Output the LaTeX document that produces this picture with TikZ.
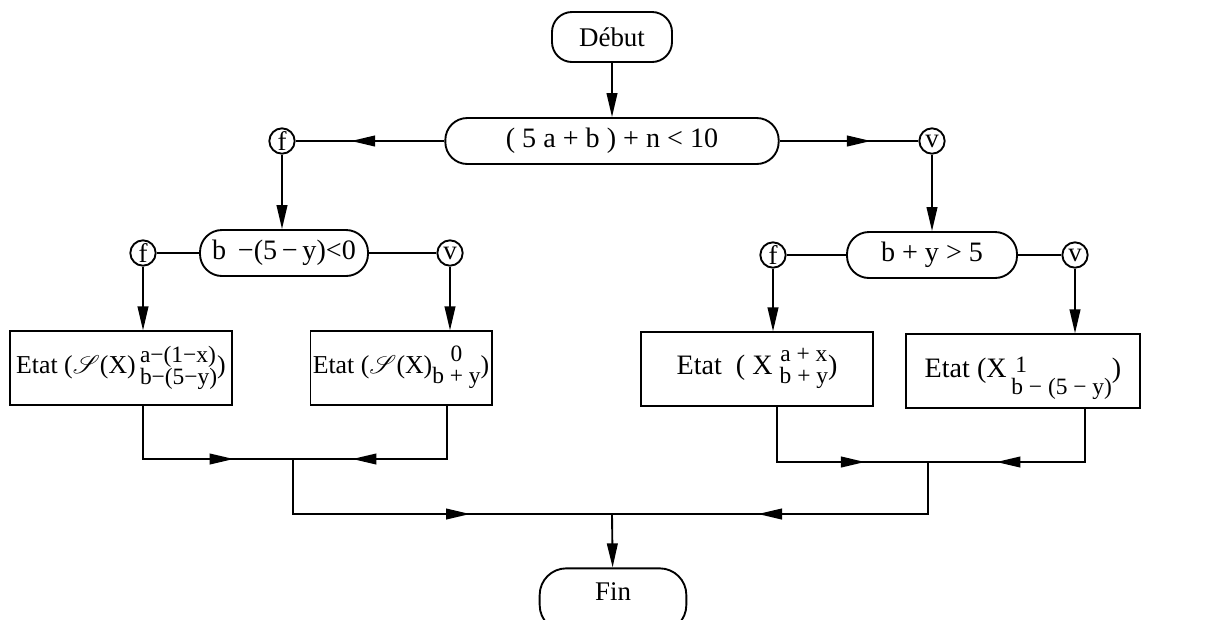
\documentclass[tikz,border=0pt]{standalone}
\usepackage{fontspec}
\usepackage{mathrsfs}
\setmainfont{Liberation Serif}
\usetikzlibrary{arrows.meta,decorations.markings}
\newcommand{\stk}[3]{{\fontsize{10}{11}\selectfont\renewcommand{\arraystretch}{0.75}\begin{tabular}{@{}#1@{}}#2\\#3\end{tabular}}}
\begin{document}
\begin{tikzpicture}[x=0.015cm,y=-0.015cm,line width=0.8pt,
    >={Triangle[length=3.6mm,width=1.6mm]},
    term/.style={draw, rounded corners=0.3cm, minimum height=0.75cm, font=\fontsize{11.5}{13}\selectfont},
    test/.style={draw, rounded corners=0.33cm, minimum height=0.69cm, font=\fontsize{12}{14}\selectfont},
    rep/.style={draw, circle, inner sep=0pt, minimum size=0.38cm, font=\fontsize{11.5}{12}\selectfont},
    etat/.style={draw, minimum height=1.1cm, inner sep=1pt, font=\fontsize{11}{13}\selectfont},
    flow/.style={postaction={decorate},
      decoration={markings, mark=at position #1 with {\arrow{>}}}}]
    \useasboundingbox (0,0) rectangle (1219,619);
    \node[term, minimum width=1.8cm] (debut) at (612,37) {Début};
    \node[test, minimum width=5cm] (test1) at (612,141) {( 5 a + b ) + n < 10\hspace{0.5cm}};
    \node[rep] (f1) at (282,141) {f};
    \node[rep] (v1) at (932,141) {v};
    \node[test, minimum width=2.52cm] (test2) at (284,253) {b \,−(5\,−\,y)<0};
    \node[rep] (f2) at (143,253) {f};
    \node[rep] (v2) at (450,253) {v};
    \node[test, minimum width=2.55cm] (test3) at (932,255) {b + y > 5};
    \node[rep] (f3) at (773,255) {f};
    \node[rep] (v3) at (1075,255) {v};
    \node[etat, minimum width=3.33cm] (etat1) at (121,368)
      {Etat ($\mathscr{S}$(X)\,\stk{l}{a−(1−x)}{b−(5−y)})};
    \node[etat, minimum width=2.57cm] (etat2) at (401,368)
      {Etat ($\mathscr{S}$(X)\stk{c}{0}{b + y})};
    \node[etat, minimum width=3.47cm, font=\fontsize{12}{14}\selectfont] (etat3) at (757,369)
      {Etat \ ( X \stk{c}{a + x}{b + y})};
    \node[etat, minimum width=3.5cm, font=\fontsize{12}{14}\selectfont] (etat4) at (1023,371)
      {Etat (X\,\raisebox{-3pt}[0pt][0pt]{\stk{l}{\,1}{b − (5 − y)}})};
    \coordinate (j1) at (293,459);
    \coordinate (j2) at (928,462);
    \coordinate (j3) at (612,514);
    \node[term, minimum width=2.2cm, minimum height=0.95cm, rounded corners=0.4cm] (fin) at (613,600) {\raisebox{7pt}{Fin}};

    \draw[->] (debut) -- (test1);
    \draw[flow=1.4cm] (test1) -- (f1);
    \draw[flow=1.37cm] (test1) -- (v1);
    \draw[->] (f1) -- (f1 |- test2.north);
    \draw[->] (v1) -- (v1 |- test3.north);
    \draw (f2) -- (test2) -- (v2);
    \draw (f3) -- (test3) -- (v3);
    \draw[->] (f2) -- (f2 |- etat1.north);
    \draw[->] (v2) -- (v2 |- etat2.north);
    \draw[->] (f3) -- (f3 |- etat3.north);
    \draw[->] (v3) -- (v3 |- etat4.north);
    \draw[flow=2.16cm] (f2 |- etat1.south) |- (j1);
    \draw[flow=2.22cm] (447,0 |- etat2.south) |- (j1);
    \draw[flow=2.15cm] (777,0 |- etat3.south) |- (j2);
    \draw[flow=2.13cm] (1085,0 |- etat4.south) |- (j2);
    \draw[flow=3.48cm] (j1) |- (j3);
    \draw[flow=3.33cm] (j2) |- (j3);
    \draw[->] (j3) -- (fin);
\end{tikzpicture}
\end{document}
